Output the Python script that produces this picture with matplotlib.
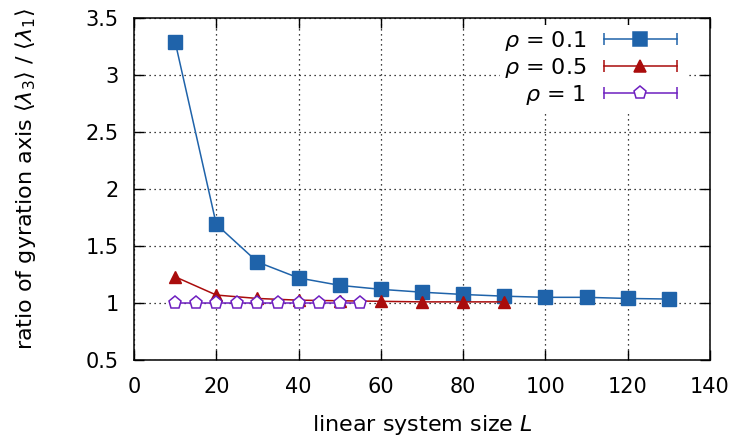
import matplotlib
matplotlib.use("Agg")
import matplotlib.pyplot as plt
from matplotlib.lines import Line2D
from matplotlib.legend_handler import HandlerLine2D, HandlerTuple

plt.rcParams['font.family'] = ['DejaVu Sans']
plt.rcParams['mathtext.fontset'] = 'dejavusans'

# data
L_01 = [10, 20, 30, 40, 50, 60, 70, 80, 90, 100, 110, 120, 130]
r_01 = [3.29, 1.69, 1.36, 1.22, 1.155, 1.12, 1.095, 1.075, 1.06, 1.05, 1.05, 1.04, 1.035]
L_05 = [10, 20, 30, 40, 50, 60, 70, 80, 90]
r_05 = [1.23, 1.07, 1.04, 1.025, 1.02, 1.015, 1.01, 1.01, 1.01]
L_1 = [10, 15, 20, 25, 30, 35, 40, 45, 50, 55]
r_1 = [1.0, 1.0, 1.0, 1.0, 1.0, 1.0, 1.0, 1.0, 1.0, 1.0]

blue = '#1f63aa'
red = '#aa0c0c'
purple = '#6e1fc0'

fig = plt.figure(figsize=(7.38, 4.38), dpi=100)
ax = fig.add_axes([0.1816, 0.178, 0.962 - 0.1816, 0.959 - 0.178])

ax.plot(L_01, r_01, color=blue, lw=1.1, marker='s', ms=9.5, zorder=3)
ax.plot(L_05, r_05, color=red, lw=1.1, marker='^', ms=8.5, zorder=3)
ax.plot(L_1, r_1, color=purple, lw=1.1, marker='p', ms=9.5, mfc='white',
        mec=purple, mew=1.1, zorder=3)

ax.set_xlim(0, 140)
ax.set_ylim(0.5, 3.5)
ax.set_xticks(range(0, 141, 20))
ax.set_yticks([0.5, 1, 1.5, 2, 2.5, 3, 3.5])
ax.set_yticklabels(['0.5', '1', '1.5', '2', '2.5', '3', '3.5'])
ax.tick_params(direction='in', top=True, right=True, length=7, width=1,
               labelsize=15)
ax.tick_params(axis='x', pad=12)
ax.tick_params(axis='y', pad=11)
ax.grid(True, color='black', linestyle=(0, (1, 3)), linewidth=0.9)
for s in ax.spines.values():
    s.set_linewidth(1.1)

ax.set_xlabel('linear system size $L$', fontsize=16, labelpad=12)
ax.set_ylabel(r'ratio of gyration axis $\langle\lambda_3\rangle$ / $\langle\lambda_1\rangle$',
              fontsize=16)
ax.yaxis.set_label_coords(-0.167, 0.53)

# gnuplot style key: error-bar line with caps, marker in the middle
handles = []
hmap = {}
for c, m, fc in [(blue, 's', blue), (red, '^', red), (purple, 'p', 'white')]:
    caps = Line2D([], [], color=c, lw=1.1, marker='|', ms=9, mew=1.1)
    mk = Line2D([], [], color=c, ls='none', marker=m, ms=9.5 if m != '^' else 8.5,
                mfc=fc, mec=c, mew=1.1)
    hmap[caps] = HandlerLine2D(numpoints=2)
    hmap[mk] = HandlerLine2D(numpoints=1)
    handles.append((caps, mk))
hmap[tuple] = HandlerTuple(ndivide=1)

leg = ax.legend(handles, [r'$\rho$ = 0.1', r'$\rho$ = 0.5', r'$\rho$ = 1'],
                handler_map=hmap, loc='upper right', bbox_to_anchor=(0.962, 0.98),
                markerfirst=False, frameon=True, framealpha=1, edgecolor='none',
                fancybox=False, fontsize=16, handlelength=3.9, handletextpad=0.47,
                labelspacing=0.12, borderpad=0.2, borderaxespad=0)

fig.savefig('out.png', dpi=100)
